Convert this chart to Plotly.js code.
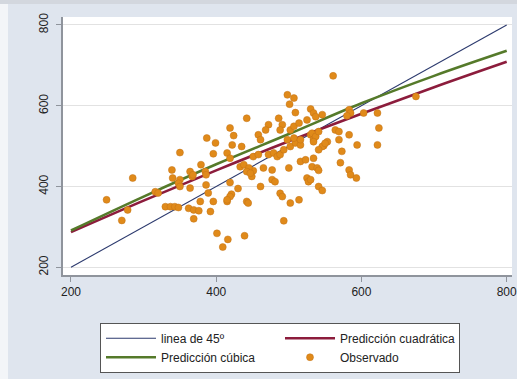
<!DOCTYPE html>
<html>
<head>
<meta charset="utf-8">
<script src="https://cdn.plot.ly/plotly-3.0.1.min.js"></script>
<style>
  html, body { margin: 0; padding: 0; background: #f3f5f8; width: 517px; height: 379px; overflow: hidden; }
  #topband { position: absolute; left: 0; top: 0; width: 517px; height: 4px; background: #d3d7de; }
  #chart { position: absolute; left: 8px; top: 4px; width: 509px; height: 375px; }
</style>
</head>
<body>
<div id="topband"></div>
<div id="chart"></div>
<script>
// Observed values
const obsX = [350,396,379,339,285,364,367,368,385,386,350,348,350,340,364,386,316,320,249,378,
              389,330,337,343,348,362,369,376,392,278,369,270,401,416,409,439,396,415,421,419,
              430,442,444,422,419,449,451,433,399,435,415,419,438,445,442,447,465,477,451,458,
              472,479,484,488,493,502,509,516,500,516,523,532,525,527,477,481,461,415,488,491,
              502,514,493,539,541,498,507,501,509,442,530,534,486,491,488,472,468,419,424,458,
              461,502,507,514,525,498,507,516,530,534,561,583,585,580,603,622,675,537,546,532,
              537,541,534,564,569,583,624,569,553,548,594,622,546,541,550,573,534,571,541,530,
              583,585,593,546,387];
const obsY = [484,481,454,441,421,437,425,429,437,429,417,408,400,421,396,404,387,384,367,363,
              384,350,350,350,348,346,342,340,338,342,320,316,284,269,250,278,363,363,381,375,
              395,363,359,503,410,425,439,449,508,499,483,470,454,446,437,433,446,441,474,479,
              479,483,474,479,491,499,508,503,446,462,466,449,421,412,417,412,400,367,383,375,
              359,367,315,446,400,627,619,604,583,569,592,582,569,553,540,553,540,545,526,528,
              516,540,549,557,565,516,520,516,528,516,674,590,582,575,582,582,623,573,578,532,
              524,536,511,540,536,528,545,516,511,501,503,503,499,491,507,487,470,459,440,417,
              441,429,421,390,520];

// Fitted predictions along the x grid
const fitX   = [200, 300, 400, 500, 600, 700, 800];
const quadY  = [287, 365, 440, 512, 580, 646, 709];
const cubicY = [291, 375, 455, 530, 606, 674, 736];

// Reference diagonal
const diagX = [200, 800];
const diagY = [200, 800];

const traces = [
  { x: diagX, y: diagY, type: 'scatter', mode: 'lines', name: 'linea de 45º',
    line: { color: '#2c3a6e', width: 1.1 } },
  { x: fitX, y: quadY, type: 'scatter', mode: 'lines', name: 'Predicción cuadrática',
    line: { color: '#8c1c3c', width: 2.6, shape: 'spline' } },
  { x: fitX, y: cubicY, type: 'scatter', mode: 'lines', name: 'Predicción cúbica',
    line: { color: '#557a2a', width: 2.6, shape: 'spline' } },
  { x: obsX, y: obsY, type: 'scatter', mode: 'markers', name: 'Observado',
    marker: { color: '#e08a1a', size: 7, line: { color: '#c27316', width: 0.5 } } }
];

const layout = {
  width: 509, height: 375,
  margin: { l: 55, r: 5, t: 13, b: 104 },
  paper_bgcolor: '#dfe5ee',
  plot_bgcolor: '#ffffff',
  font: { family: 'Liberation Sans, Arial, sans-serif', size: 12, color: '#222' },
  showlegend: true,
  xaxis: {
    range: [189, 807.3], tickvals: [200, 400, 600, 800], ticktext: ['200', '400', '600', '800'],
    showgrid: false, zeroline: false,
    showline: true, linecolor: '#8f949c', linewidth: 2,
    ticks: 'outside', ticklen: 5, tickcolor: '#8f949c', tickwidth: 1,
    ticklabeloverflow: 'allow',
    tickfont: { size: 12, color: '#222' }
  },
  yaxis: {
    range: [180.8, 819.8], tickvals: [200, 400, 600, 800], ticktext: ['200', '400', '600', '800'],
    showgrid: true, gridcolor: '#e2e2e2', gridwidth: 1, zeroline: false,
    showline: true, linecolor: '#8f949c', linewidth: 2,
    ticks: 'outside', ticklen: 5, tickcolor: '#8f949c', tickwidth: 1,
    tickangle: -90, ticklabelstandoff: 3,
    tickfont: { size: 12, color: '#222' }
  },
  legend: {
    orientation: 'h', x: 0.0824, xanchor: 'left', y: -0.185, yanchor: 'top',
    bgcolor: '#ffffff', bordercolor: '#555', borderwidth: 1,
    itemwidth: 50, entrywidth: 114, tracegroupgap: 0,
    font: { size: 12, color: '#222' }
  }
};

Plotly.newPlot('chart', traces, layout, { displayModeBar: false, staticPlot: true });
</script>
</body>
</html>
